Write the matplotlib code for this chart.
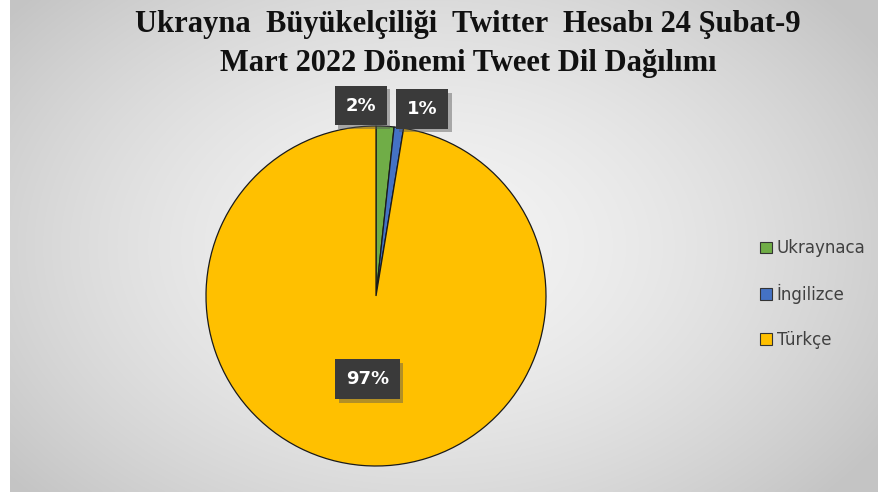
import numpy as np
import matplotlib
matplotlib.use("Agg")
import matplotlib.pyplot as plt
import matplotlib.patheffects as pe
from matplotlib.patches import Patch

title = "Ukrayna  Büyükelçiliği  Twitter  Hesabı 24 Şubat-9\nMart 2022 Dönemi Tweet Dil Dağılımı"
categories = ["Ukraynaca", "İngilizce", "Türkçe"]
values = [1.7, 0.9, 97.4]
colors = ["#70ad47", "#4472c4", "#ffc000"]
label_pos = [(-0.09, 1.12), (0.27, 1.10), (-0.05, -0.49)]

W, H = 879, 494
fig = plt.figure(figsize=(W / 100, H / 100), dpi=100)
fig.patch.set_facecolor("white")

# radial gradient background
bg = fig.add_axes([10 / W, 2 / H, (W - 10) / W, (H - 2) / H])
bg.set_axis_off()
ny, nx = 300, 540
yy, xx = np.mgrid[0:ny, 0:nx]
cx, cy = nx * 0.48, ny * 0.5
d = np.sqrt(((xx - cx) / (nx * 0.62)) ** 2 + ((yy - cy) / (ny * 0.75)) ** 2)
d = np.clip(d, 0, 1)
val = 0.955 - (0.955 - 0.77) * d ** 1.6
img = np.dstack([val, val, val])
bg.imshow(img, aspect="auto", extent=[0, 1, 0, 1], interpolation="bilinear")
bg.set_xlim(0, 1)
bg.set_ylim(0, 1)

# pie
cxp, cyp, r = 376, H - 296, 170
ax = fig.add_axes([(cxp - r) / W, (cyp - r) / H, 2 * r / W, 2 * r / H])
ax.set_axis_off()
wedges, _ = ax.pie(values, colors=colors, startangle=90, counterclock=False,
                   radius=1.0, wedgeprops=dict(edgecolor="#1a1a1a", linewidth=0.9))
ax.set_xlim(-1, 1)
ax.set_ylim(-1, 1)
ax.set_aspect("auto")

for v, (lx, ly) in zip(values, label_pos):
    t = ax.text(lx, ly, f"{v:.0f}%", ha="center", va="center", color="white",
                fontsize=13, fontweight="bold", family="DejaVu Sans",
                bbox=dict(boxstyle="square,pad=0.6", facecolor="#3a3a3a", edgecolor="none"),
                zorder=10, clip_on=False)
    t.get_bbox_patch().set_path_effects([
        pe.SimplePatchShadow(offset=(2.5, -2.5), shadow_rgbFace="#555555", alpha=0.45),
        pe.Normal()])

# title
fig.text(468 / W, 1 - 44 / H, title, ha="center", va="center", fontsize=22,
         fontweight="bold", family="Liberation Serif", linespacing=1.42, color="#111111")

# legend
handles = [Patch(facecolor=c, edgecolor="#333333", linewidth=0.8) for c in colors]
leg = fig.legend(handles, categories, loc="center left",
                 bbox_to_anchor=(745 / W, 1 - 294 / H), frameon=False,
                 prop=dict(family="DejaVu Sans", size=12),
                 handlelength=0.7, handleheight=0.7, handletextpad=0.3,
                 labelspacing=1.6)
for t in leg.get_texts():
    t.set_color("#404040")

fig.savefig("out.png", dpi=100)
